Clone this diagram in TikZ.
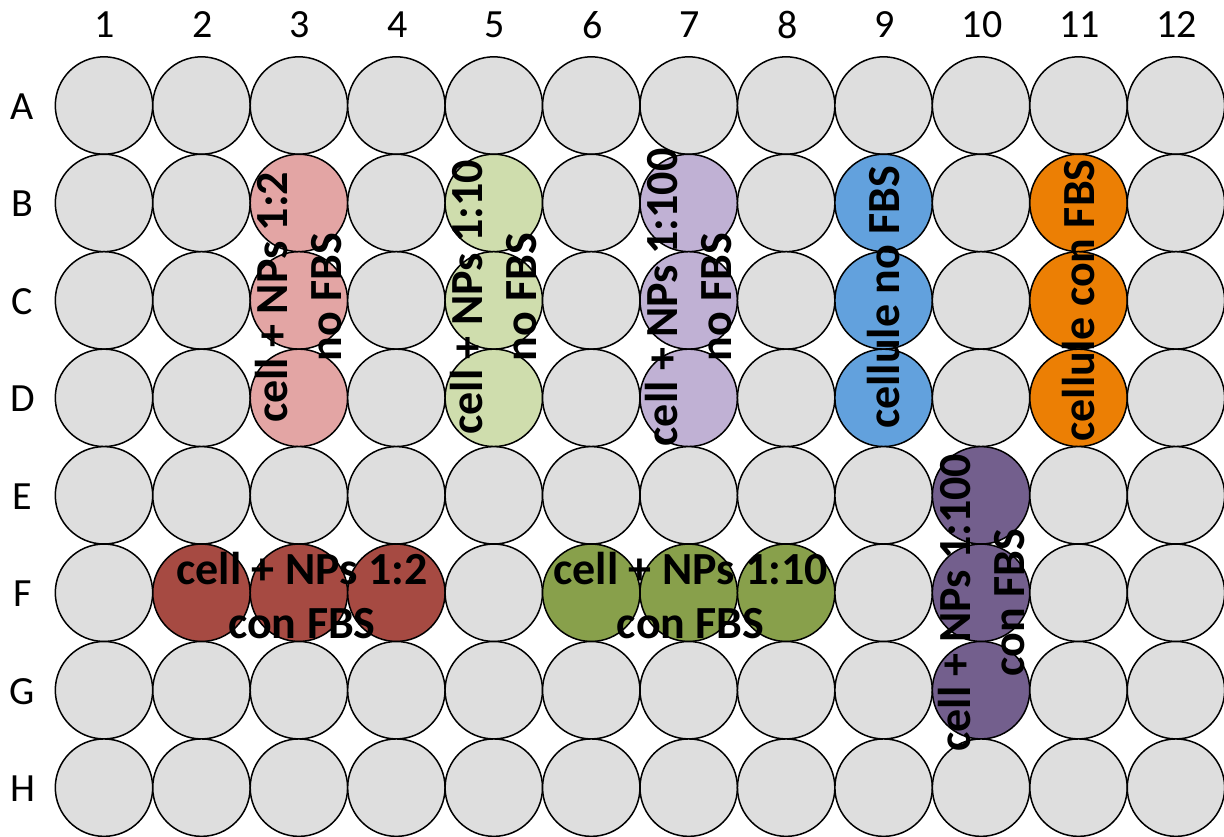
\documentclass[tikz,border=0pt]{standalone}
\usepackage{fontspec}
\setmainfont{Carlito}
\definecolor{wellgray}{HTML}{DEDEDE}
\definecolor{pinkw}{HTML}{E3A5A4}
\definecolor{lgreenw}{HTML}{CFDDAD}
\definecolor{lavw}{HTML}{C0B1D4}
\definecolor{bluew}{HTML}{62A1DD}
\definecolor{orangew}{HTML}{EC7F04}
\definecolor{redw}{HTML}{A64A42}
\definecolor{olivew}{HTML}{88A04B}
\definecolor{purplew}{HTML}{735F8D}
\def\setwc#1#2{\expandafter\def\csname wc@#1\endcsname{#2}}
\setwc{B3}{pinkw}\setwc{C3}{pinkw}\setwc{D3}{pinkw}
\setwc{B5}{lgreenw}\setwc{C5}{lgreenw}\setwc{D5}{lgreenw}
\setwc{B7}{lavw}\setwc{C7}{lavw}\setwc{D7}{lavw}
\setwc{B9}{bluew}\setwc{C9}{bluew}\setwc{D9}{bluew}
\setwc{B11}{orangew}\setwc{C11}{orangew}\setwc{D11}{orangew}
\setwc{F2}{redw}\setwc{F3}{redw}\setwc{F4}{redw}
\setwc{F6}{olivew}\setwc{F7}{olivew}\setwc{F8}{olivew}
\setwc{E10}{purplew}\setwc{F10}{purplew}\setwc{G10}{purplew}
\begin{document}
\begin{tikzpicture}[x=1pt,y=-1pt,
  well/.style={circle,draw=black,line width=1.5pt,minimum size=97.4pt,inner sep=0pt},
  lab/.style={font=\fontsize{40}{48}\selectfont,text=black,inner sep=0pt},
  wtxt/.style={font=\bfseries\fontsize{46}{54}\selectfont,align=center,inner sep=0pt,text=black}]
\path[use as bounding box] (0,0) rectangle (1224,836);
\foreach \r [count=\i] in {A,B,C,D,E,F,G,H} {
  \foreach \c in {1,...,12} {
    \ifcsname wc@\r\c\endcsname
      \edef\fc{\csname wc@\r\c\endcsname}%
    \else
      \def\fc{wellgray}%
    \fi
    \node[well,fill=\fc] (w\r\c) at ({104+(\c-1)*97.45},{105.5+(\i-1)*97.45}) {};
  }
  \node[lab] (row\r) at (22.5,{106.5+(\i-1)*97.45}) {\r};
}
\foreach \c in {1,...,12} {
  \node[lab] (col\c) at ({105+(\c-1)*97.45},25) {\c};
}
\node[wtxt,rotate=90] (t3) at ([yshift=3pt]wC3.center) {cell + NPs 1:2\\no FBS};
\node[wtxt,rotate=90] (t5) at ([yshift=3pt]wC5.center) {cell + NPs 1:10\\no FBS};
\node[wtxt,rotate=90] (t7) at ([yshift=3pt]wC7.center) {cell + NPs 1:100\\no FBS};
\node[wtxt,rotate=90] (t9) at ([yshift=3pt]wC9.center) {cellule no FBS};
\node[wtxt,rotate=90] (t11) at (wC11.center) {cellule con FBS};
\node[wtxt,rotate=90] (t10) at ([yshift=-10pt]wF10.center) {cell + NPs 1:100\\con FBS};
\node[wtxt] (tF3) at ([xshift=3pt,yshift=-3pt]wF3.center) {cell + NPs 1:2\\con FBS};
\node[wtxt] (tF7) at ([xshift=2pt,yshift=-3pt]wF7.center) {cell + NPs 1:10\\con FBS};
\end{tikzpicture}
\end{document}
